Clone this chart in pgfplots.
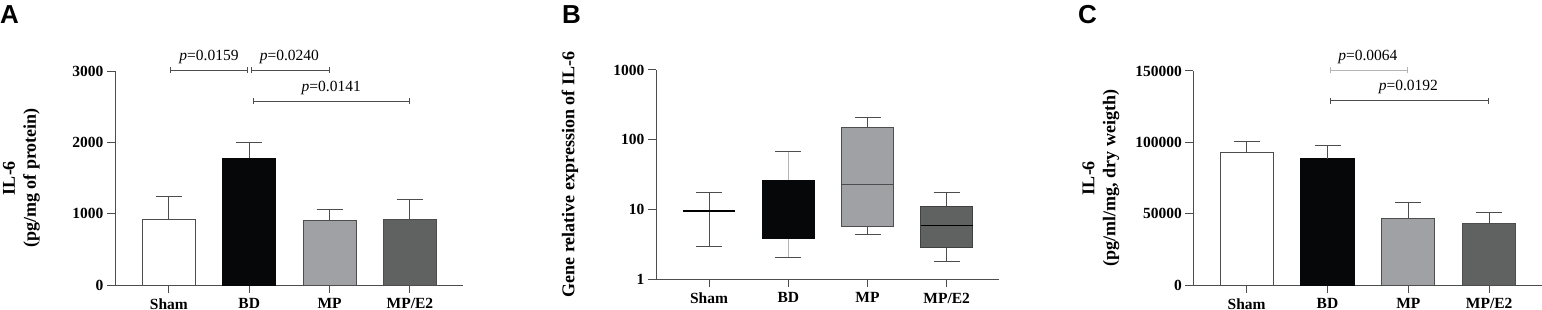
\documentclass[border=0pt]{standalone}
\usepackage{fontspec}
\setmainfont{Liberation Serif}
\newfontfamily\arialfont{Liberation Sans}
\usepackage{pgfplots}
\pgfplotsset{compat=1.18}
\usetikzlibrary{arrows.meta}
\definecolor{axgray}{HTML}{4D4D4D}
\definecolor{mpgray}{HTML}{A0A1A4}
\definecolor{e2gray}{HTML}{5F6260}
\definecolor{bdblack}{HTML}{050708}
\definecolor{lightg}{HTML}{B5B5B5}
\pgfplotsset{
  panel/.style={
    scale only axis,
    axis x line*=bottom, axis y line*=left,
    axis line style={axgray, line width=1pt, -},
    tick style={axgray, line width=1pt},
    major tick length=8pt, tick align=outside,
    xtick={0,1,2,3}, xticklabels={Sham,BD,MP,MP/E2},
    ticklabel style={font=\fontsize{15.5}{18}\selectfont\bfseries},
    xticklabel style={yshift=-2pt},
    scaled y ticks=false,
    ylabel style={font=\fontsize{18}{21}\selectfont\bfseries, align=center, anchor=center},
    clip=false,
  },
  mybar/.style={ybar, bar shift=0pt, bar width=53pt, line width=1pt,
    error bars/y dir=plus, error bars/y explicit,
    error bars/error bar style={axgray, line width=1pt},
    error bars/error mark options={rotate=90, mark size=13pt, axgray, line width=1pt}},
}
\tikzset{
  brk/.style={line width=1pt, {Bar[width=6pt]}-{Bar[width=6pt]}},
  pval/.style={anchor=base, font=\fontsize{15.5}{18}\selectfont, inner sep=0pt},
  wsk/.style={axgray, line width=1pt},
}
\begin{document}
\begin{tikzpicture}
\path[use as bounding box] (0,0) rectangle (1542pt,-310pt);
% panel letters
\node[anchor=north west, inner sep=0pt, font=\arialfont\bfseries\fontsize{26}{30}\selectfont] at (0pt,-5pt) {A};
\node[anchor=north west, inner sep=0pt, font=\arialfont\bfseries\fontsize{26}{30}\selectfont] at (562pt,-5pt) {B};
\node[anchor=north west, inner sep=0pt, font=\arialfont\bfseries\fontsize{26}{30}\selectfont] at (1078pt,-5pt) {C};

% Panel A
\begin{axis}[panel, at={(115pt,-285pt)}, anchor=south west,
  width=348pt, height=214pt, xmin=-0.67, xmax=3.66,
  ymin=0, ymax=3000, ytick={0,1000,2000,3000}, yticklabels={0,1000,2000,3000},
  ylabel={IL-6\\(pg/mg of protein)},
  ylabel style={at={(axis description cs:-0.2687,0.5)}}]
\addplot[mybar, fill=white, draw=axgray] coordinates {(0,921) +- (0,317)};
\addplot[mybar, fill=bdblack, draw=bdblack] coordinates {(1,1776) +- (0,224)};
\addplot[mybar, fill=mpgray, draw=axgray] coordinates {(2,911) +- (0,145)};
\addplot[mybar, fill=e2gray, draw=axgray] coordinates {(3,925) +- (0,271)};
\draw[brk, axgray] (axis cs:0.02,3010) -- (axis cs:0.99,3010);
\draw[brk, axgray] (axis cs:1.02,3010) -- (axis cs:2.0,3010);
\draw[brk, axgray] (axis cs:1.05,2576) -- (axis cs:3.0,2576);
\node[pval] at ([yshift=10pt]axis cs:0.5,3010) {\textit{p}=0.0159};
\node[pval] at ([yshift=10pt]axis cs:1.5,3010) {\textit{p}=0.0240};
\node[pval] at ([yshift=10pt]axis cs:2.02,2576) {\textit{p}=0.0141};
\end{axis}

% Panel B
\begin{axis}[panel, at={(656pt,-279.3pt)}, anchor=south west,
  width=343pt, height=209.3pt, xmin=-0.67, xmax=3.66,
  ymode=log, ymin=1, ymax=1000, ytick={1,10,100,1000}, yticklabels={1,10,100,1000},
  yminorticks=false,
  ylabel={Gene relative expression of IL-6},
  ylabel style={at={(axis description cs:-0.2507,0.5)}}]
% Sham: whiskers 2.93 -- 17.6, median 9.5
\addplot[wsk] coordinates {(0,2.93) (0,17.6)};
\addplot[wsk] coordinates {(-0.164,2.93) (0.164,2.93)};
\addplot[wsk] coordinates {(-0.164,17.6) (0.164,17.6)};
\addplot[black, line width=1.6pt] coordinates {(-0.328,9.5) (0.328,9.5)};
% BD: whiskers 2.07 -- 67.3, box 3.87 -- 26.5
\addplot[lightg, line width=1.3pt] coordinates {(1,2.07) (1,67.3)};
\addplot[wsk] coordinates {(0.836,2.07) (1.164,2.07)};
\addplot[wsk] coordinates {(0.836,67.3) (1.164,67.3)};
\addplot[fill=bdblack, draw=bdblack, line width=1pt] coordinates {(0.672,3.87) (1.328,3.87) (1.328,26.5) (0.672,26.5)} -- cycle;
% MP: whiskers 4.41 -- 209, box 5.74 -- 150.6, median 23
\addplot[wsk] coordinates {(2,4.41) (2,209)};
\addplot[wsk] coordinates {(1.836,4.41) (2.164,4.41)};
\addplot[wsk] coordinates {(1.836,209) (2.164,209)};
\addplot[fill=mpgray, draw=axgray, line width=1pt] coordinates {(1.672,5.74) (2.328,5.74) (2.328,150.6) (1.672,150.6)} -- cycle;
\addplot[axgray, line width=1pt] coordinates {(1.672,23) (2.328,23)};
% MP/E2: whiskers 1.81 -- 17.6, box 2.84 -- 10.97, median 5.94
\addplot[wsk] coordinates {(3,1.81) (3,17.6)};
\addplot[wsk] coordinates {(2.836,1.81) (3.164,1.81)};
\addplot[wsk] coordinates {(2.836,17.6) (3.164,17.6)};
\addplot[fill=e2gray, draw=black!75, line width=1pt] coordinates {(2.672,2.84) (3.328,2.84) (3.328,10.97) (2.672,10.97)} -- cycle;
\addplot[black, line width=1pt] coordinates {(2.672,5.94) (3.328,5.94)};
\end{axis}

% Panel C
\begin{axis}[panel, at={(1193.3pt,-285pt)}, anchor=south west,
  width=348.4pt, height=214pt, xmin=-0.66, xmax=3.65,
  ymin=0, ymax=150000, ytick={0,50000,100000,150000}, yticklabels={0,50000,100000,150000},
  ylabel={IL-6\\(pg/ml/mg, dry weigth)},
  ylabel style={at={(axis description cs:-0.265,0.5)}}]
\addplot[mybar, fill=white, draw=axgray] coordinates {(0,93000) +- (0,7900)};
\addplot[mybar, fill=bdblack, draw=bdblack] coordinates {(1,88550) +- (0,9350)};
\addplot[mybar, fill=mpgray, draw=axgray] coordinates {(2,46500) +- (0,11450)};
\addplot[mybar, fill=e2gray, draw=axgray] coordinates {(3,43200) +- (0,7500)};
\draw[brk, lightg] (axis cs:1.03,150700) -- (axis cs:2.0,150700);
\draw[brk, axgray] (axis cs:1.03,129000) -- (axis cs:3.0,129000);
\node[pval] at ([yshift=10pt]axis cs:1.5,150700) {\textit{p}=0.0064};
\node[pval] at ([yshift=10pt]axis cs:2.0,129000) {\textit{p}=0.0192};
\end{axis}
\end{tikzpicture}
\end{document}
